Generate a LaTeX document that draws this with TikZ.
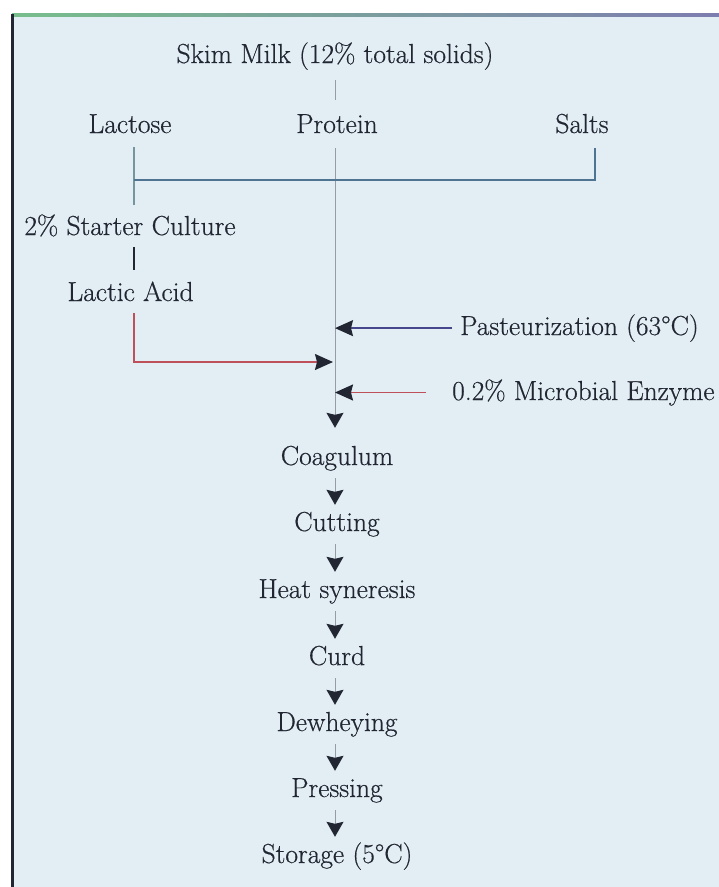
\documentclass[tikz,border=0pt]{standalone}
\usepackage{fontspec}
\setmainfont{Latin Modern Roman}
\newfontfamily\lmr{Latin Modern Roman}[FakeBold=0.5]
\usetikzlibrary{arrows.meta,calc}
\definecolor{bg}{RGB}{226,238,244}
\definecolor{ink}{RGB}{34,38,50}
\definecolor{axisgray}{RGB}{150,156,164}
\definecolor{teal1}{RGB}{70,140,150}
\definecolor{purp1}{RGB}{90,80,140}
\definecolor{redl}{RGB}{190,80,90}
\definecolor{bluel}{RGB}{70,70,140}
\tikzset{
  txt/.style={font=\lmr\fontsize{27.5}{32}\selectfont, text=ink, inner sep=0pt, anchor=base},
  flow/.style={txt, text height=18pt, text depth=6pt},
  row/.style={txt, text height=18pt, text depth=4pt},
  side/.style={txt, anchor=base west},
  sidehead/.style={-{Stealth[length=18pt,width=16pt,inset=2pt,color=ink]}},
  downhead/.style={-{Stealth[length=15pt,width=17pt,inset=2pt,color=ink]}},
  thin line/.style={line width=1pt},
}
\begin{document}
\begin{tikzpicture}[x=1pt,y=-1pt]
\useasboundingbox (0,0) rectangle (719,887);
% background and frame
\fill[bg] (12,15) rectangle (719,887);
\fill[left color={rgb,255:red,120;green,190;blue,140}, right color={rgb,255:red,125;green,125;blue,175}] (12,13.8) rectangle (719,16.2);
\draw[line width=2.5pt, ink] (12.5,14) -- (12.5,887);

\coordinate (ax) at (335,0);
\coordinate (lx) at (134,0);
\coordinate (j) at (134,180);

% nodes
\node[txt] (skim) at (335,63) {Skim Milk (12\% total solids)};
\node[row] (lactose) at (130,133) {Lactose};
\node[row] (protein) at (337,133) {Protein};
\node[row] (salts) at (582,133) {Salts};
\node[row] (starter) at (130,235) {2\% Starter Culture};
\node[row] (lactic) at (130.5,301) {Lactic Acid};
\node[side] (past) at (460,335) {Pasteurization (63°C)};
\node[side] (enz) at (452,400) {0.2\% Microbial Enzyme};

\node[flow] (coag) at (337,465) {Coagulum};
\node[flow] (cut) at (337,531) {Cutting};
\node[flow] (heat) at (337,598) {Heat syneresis};
\node[flow] (curd) at (337,665) {Curd};
\node[flow] (dew) at (337,731) {Dewheying};
\node[flow] (press) at (337,797) {Pressing};
\node[flow] (stor) at (337,863) {Storage (5°C)};

\coordinate (mix) at (333,362);

% connectors
\draw[thin line, axisgray, shorten <=10pt, shorten >=15pt] (skim.south -| ax) -- (protein.north -| ax);
\draw[thin line, axisgray, downhead, shorten <=11pt, shorten >=19pt] (protein.south -| ax) -- (coag.north -| ax);
\draw[line width=1.3pt, axisgray!60!teal1, shorten <=10pt, shorten >=12pt] (lactose.south -| lx) -- (starter.north -| lx);
\draw[line width=1.5pt, teal1!60!purp1, shorten <=11pt] ([xshift=13pt]salts.south) |- (j);
\draw[line width=2.5pt, ink, shorten <=8pt, shorten >=13pt] (starter.south -| lx) -- (lactic.north -| lx);
\draw[line width=1.5pt, redl, sidehead, shorten <=8pt] (lactic.south -| lx) |- (mix);
\draw[line width=1.5pt, bluel, sidehead, shorten <=8pt] (past.west) -- (past.west -| ax);
\draw[line width=1.5pt, redl, sidehead, shorten <=26pt] (enz.west) -- (enz.west -| ax);

\tikzset{fl/.style={thin line, axisgray, downhead, shorten <=7pt, shorten >=8pt}}
\draw[fl] (coag.south -| ax) -- (cut.north -| ax);
\draw[fl] (cut.south -| ax) -- (heat.north -| ax);
\draw[fl] (heat.south -| ax) -- (curd.north -| ax);
\draw[fl] (curd.south -| ax) -- (dew.north -| ax);
\draw[fl] (dew.south -| ax) -- (press.north -| ax);
\draw[fl] (press.south -| ax) -- (stor.north -| ax);
\end{tikzpicture}
\end{document}
